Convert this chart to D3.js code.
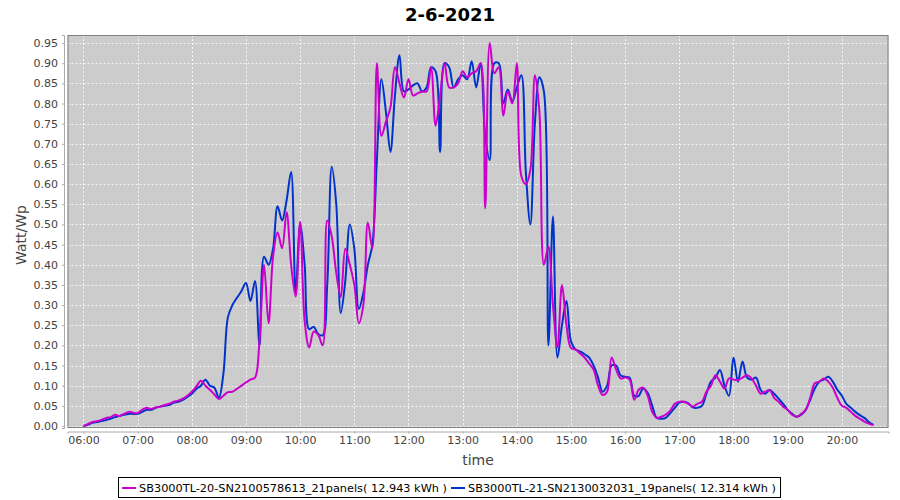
<!DOCTYPE html>
<html>
<head>
<meta charset="utf-8">
<script src="https://cdn.jsdelivr.net/npm/d3@7"></script>
<style>
  body { margin: 0; background: #ffffff; }
  svg { display: block; font-family: "DejaVu Sans", sans-serif; }
</style>
</head>
<body>
<div id="chart"></div>
<script>
// logger samples every 5 minutes, starting 06:00
var startMinute = 360;
var stepMinutes = 5;
var yTicks = [0, 0.05, 0.10, 0.15, 0.20, 0.25, 0.30, 0.35, 0.40, 0.45, 0.50, 0.55, 0.60, 0.65, 0.70, 0.75, 0.80, 0.85, 0.90, 0.95];
var xTickLabels = ["06:00", "07:00", "08:00", "09:00", "10:00", "11:00", "12:00", "13:00", "14:00", "15:00", "16:00", "17:00", "18:00", "19:00", "20:00"];
var seriesNames = ["SB3000TL-20-SN2100578613_21panels( 12.943 kWh )", "SB3000TL-21-SN2130032031_19panels( 12.314 kWh )"];
var seriesColors = ["#cc00cc", "#0033cc"];

// Watt/Wp, inverter 20 (magenta)
var inv20 = [
  0.000, 0.005, 0.010, 0.012, 0.015, 0.020, 0.022, 0.028, 0.025, 0.030, 0.035, 0.033,
  0.032, 0.040, 0.045, 0.042, 0.046, 0.048, 0.052, 0.055, 0.060, 0.063, 0.068, 0.075,
  0.085, 0.098, 0.112, 0.100, 0.090, 0.078, 0.067, 0.075, 0.084, 0.085, 0.092, 0.100,
  0.108, 0.115, 0.120, 0.213, 0.400, 0.255, 0.420, 0.480, 0.441, 0.530, 0.400, 0.321,
  0.507, 0.260, 0.195, 0.234, 0.226, 0.200, 0.510, 0.470, 0.380, 0.320, 0.440, 0.400,
  0.350, 0.255, 0.300, 0.505, 0.440, 0.900, 0.720, 0.755, 0.790, 0.890, 0.850, 0.815,
  0.860, 0.820, 0.825, 0.830, 0.830, 0.890, 0.745, 0.820, 0.900, 0.840, 0.840, 0.850,
  0.880, 0.865, 0.875, 0.880, 0.900, 0.540, 0.950, 0.875, 0.890, 0.770, 0.830, 0.800,
  0.900, 0.620, 0.600, 0.635, 0.870, 0.780, 0.400, 0.445, 0.300, 0.195, 0.350, 0.250,
  0.193, 0.190, 0.180, 0.170, 0.155, 0.140, 0.100, 0.077, 0.085, 0.170, 0.140, 0.118,
  0.120, 0.115, 0.065, 0.090, 0.095, 0.075, 0.035, 0.020, 0.023, 0.028, 0.038, 0.055,
  0.060, 0.060, 0.055, 0.048, 0.055, 0.060, 0.085, 0.100, 0.126, 0.110, 0.093, 0.118,
  0.115, 0.114, 0.120, 0.126, 0.118, 0.100, 0.080, 0.085, 0.089, 0.070, 0.060, 0.048,
  0.040, 0.028, 0.023, 0.030, 0.040, 0.070, 0.106, 0.110, 0.118, 0.110, 0.095, 0.070,
  0.050, 0.045, 0.035, 0.025, 0.018, 0.011, 0.006, 0.002
];

// Watt/Wp, inverter 21 (blue)
var inv21 = [
  0.000, 0.003, 0.008, 0.010, 0.012, 0.015, 0.018, 0.022, 0.025, 0.028, 0.030, 0.030,
  0.030, 0.035, 0.040, 0.040, 0.045, 0.048, 0.050, 0.052, 0.058, 0.060, 0.065, 0.072,
  0.080, 0.092, 0.100, 0.115, 0.100, 0.095, 0.070, 0.130, 0.270, 0.300, 0.318, 0.335,
  0.355, 0.310, 0.360, 0.200, 0.420, 0.400, 0.440, 0.545, 0.510, 0.560, 0.630, 0.330,
  0.500, 0.400, 0.240, 0.246, 0.228, 0.225, 0.350, 0.643, 0.550, 0.280, 0.360, 0.500,
  0.440, 0.290, 0.330, 0.400, 0.450, 0.660, 0.860, 0.780, 0.680, 0.820, 0.920, 0.830,
  0.835, 0.845, 0.850, 0.830, 0.840, 0.890, 0.880, 0.680, 0.900, 0.890, 0.840, 0.860,
  0.870, 0.860, 0.905, 0.840, 0.900, 0.720, 0.660, 0.900, 0.900, 0.800, 0.835, 0.805,
  0.840, 0.870, 0.630, 0.500, 0.750, 0.865, 0.830, 0.200, 0.520, 0.170, 0.250, 0.310,
  0.210, 0.190, 0.185, 0.178, 0.170, 0.150, 0.120, 0.085, 0.100, 0.150, 0.150, 0.125,
  0.122, 0.120, 0.075, 0.075, 0.093, 0.082, 0.050, 0.020, 0.018, 0.020, 0.032, 0.045,
  0.058, 0.060, 0.056, 0.046, 0.045, 0.050, 0.080, 0.110, 0.120, 0.139, 0.100, 0.075,
  0.170, 0.110, 0.160, 0.120, 0.115, 0.120, 0.090, 0.080, 0.089, 0.080, 0.068, 0.055,
  0.040, 0.030, 0.023, 0.028, 0.040, 0.065, 0.093, 0.110, 0.115, 0.122, 0.110, 0.090,
  0.075, 0.055, 0.045, 0.035, 0.027, 0.020, 0.010, 0.003
];

var width = 900, height = 500;
var plot = {left: 67.5, top: 35, right: 888.5, bottom: 428};

var svg = d3.select("#chart")
  .append("svg")
    .attr("width", width)
    .attr("height", height);

var x = d3.scaleLinear()
  .domain([342.3, 1251.7])
  .range([plot.left, plot.right]);

var y = d3.scaleLinear()
  .domain([-0.005, 0.97])
  .range([plot.bottom, plot.top]);

function toMinutes(label) {
  var p = label.split(":");
  return +p[0] * 60 + +p[1];
}

// plot background
svg.append("rect")
  .attr("x", plot.left)
  .attr("y", plot.top)
  .attr("width", plot.right - plot.left)
  .attr("height", plot.bottom - plot.top)
  .attr("fill", "#cccccc");

// grid lines
svg.append("g")
  .selectAll("line")
  .data(yTicks)
  .enter()
  .append("line")
    .attr("x1", plot.left)
    .attr("x2", plot.right)
    .attr("y1", function(d) { return Math.round(y(d)) + 0.5; })
    .attr("y2", function(d) { return Math.round(y(d)) + 0.5; })
    .attr("stroke", "#ffffff")
    .attr("stroke-opacity", 0.8)
    .attr("stroke-dasharray", "2,2");

svg.append("g")
  .selectAll("line")
  .data(xTickLabels)
  .enter()
  .append("line")
    .attr("x1", function(d) { return Math.round(x(toMinutes(d))) + 0.5; })
    .attr("x2", function(d) { return Math.round(x(toMinutes(d))) + 0.5; })
    .attr("y1", plot.top)
    .attr("y2", plot.bottom)
    .attr("stroke", "#ffffff")
    .attr("stroke-opacity", 0.8)
    .attr("stroke-dasharray", "2,2");

// series
var series = [inv21, inv20]; // blue drawn first, magenta on top
var colorsInOrder = [seriesColors[1], seriesColors[0]];

var line = d3.line()
  .x(function(d, i) { return x(startMinute + i * stepMinutes); })
  .y(function(d) { return y(d); })
  .curve(d3.curveCatmullRom.alpha(0.5));

svg.append("clipPath").attr("id", "plot-clip")
  .append("rect")
    .attr("x", plot.left)
    .attr("y", plot.top)
    .attr("width", plot.right - plot.left)
    .attr("height", plot.bottom - plot.top);

svg.append("g")
  .attr("clip-path", "url(#plot-clip)")
  .selectAll("path")
  .data(series)
  .enter()
  .append("path")
    .attr("d", line)
    .attr("fill", "none")
    .attr("stroke", function(d, i) { return colorsInOrder[i]; })
    .attr("stroke-width", 2)
    .attr("stroke-linejoin", "round");

// frame
svg.append("rect")
  .attr("x", plot.left + 0.5)
  .attr("y", plot.top + 0.5)
  .attr("width", plot.right - plot.left - 1)
  .attr("height", plot.bottom - plot.top - 1)
  .attr("fill", "none")
  .attr("stroke", "#808080");

// Y axis
var yAxis = svg.append("g")
  .attr("transform", "translate(" + (plot.left - 3.5) + ",0)")
  .call(d3.axisLeft(y)
    .tickValues(yTicks)
    .tickSize(2)
    .tickPadding(4)
    .tickFormat(d3.format(".2f")));
yAxis.select(".domain").attr("stroke", "#aaaaaa");
yAxis.selectAll(".tick line").attr("stroke", "#aaaaaa");
yAxis.selectAll("text")
  .attr("font-size", "11px")
  .attr("font-family", "DejaVu Sans, sans-serif")
  .attr("fill", "#444444");

// X axis
var xAxis = svg.append("g")
  .attr("transform", "translate(0," + (plot.bottom + 3.5) + ")")
  .call(d3.axisBottom(x)
    .tickValues(xTickLabels.map(toMinutes))
    .tickSize(2)
    .tickPadding(3)
    .tickFormat(function(d, i) { return xTickLabels[i]; }));
xAxis.select(".domain").attr("stroke", "#aaaaaa");
xAxis.selectAll(".tick line").attr("stroke", "#aaaaaa");
xAxis.selectAll("text")
  .attr("font-size", "11px")
  .attr("font-family", "DejaVu Sans, sans-serif")
  .attr("fill", "#444444");

// title
svg.append("text")
  .attr("x", 450)
  .attr("y", 21)
  .attr("text-anchor", "middle")
  .attr("font-size", "18px")
  .attr("font-weight", "bold")
  .attr("fill", "#000000")
  .text("2-6-2021");

// axis labels
svg.append("text")
  .attr("transform", "translate(26,235)rotate(-90)")
  .attr("text-anchor", "middle")
  .attr("font-size", "14px")
  .attr("fill", "#444444")
  .text("Watt/Wp");

svg.append("text")
  .attr("x", 478)
  .attr("y", 465)
  .attr("text-anchor", "middle")
  .attr("font-size", "14px")
  .attr("fill", "#444444")
  .text("time");

// legend
var legend = svg.append("g");
var legendBox = legend.append("rect")
  .attr("fill", "#ffffff")
  .attr("stroke", "#000000");

var lx = 0;
var items = legend.selectAll("g.item")
  .data(seriesNames)
  .enter()
  .append("g")
    .attr("class", "item");

items.each(function(d, i) {
  var g = d3.select(this);
  g.append("line")
    .attr("x1", 0).attr("x2", 14)
    .attr("y1", 0).attr("y2", 0)
    .attr("stroke", seriesColors[i])
    .attr("stroke-width", 2);
  var t = g.append("text")
    .attr("x", 17)
    .attr("y", 4)
    .attr("font-size", "11.3px")
    .attr("fill", "#000000")
    .text(d);
  var w = 17 + t.node().getComputedTextLength();
  g.attr("data-w", w);
});

var totalW = 0;
items.each(function() { totalW += +d3.select(this).attr("data-w") + 4; });
totalW -= 4;
var legendLeft = 449 - totalW / 2;
items.each(function() {
  var g = d3.select(this);
  g.attr("transform", "translate(" + (legendLeft + lx) + ",488)");
  lx += +g.attr("data-w") + 4;
});
legendBox
  .attr("x", Math.round(legendLeft - 4) + 0.5)
  .attr("y", 477.5)
  .attr("width", Math.round(totalW + 8))
  .attr("height", 20);
</script>
</body>
</html>
